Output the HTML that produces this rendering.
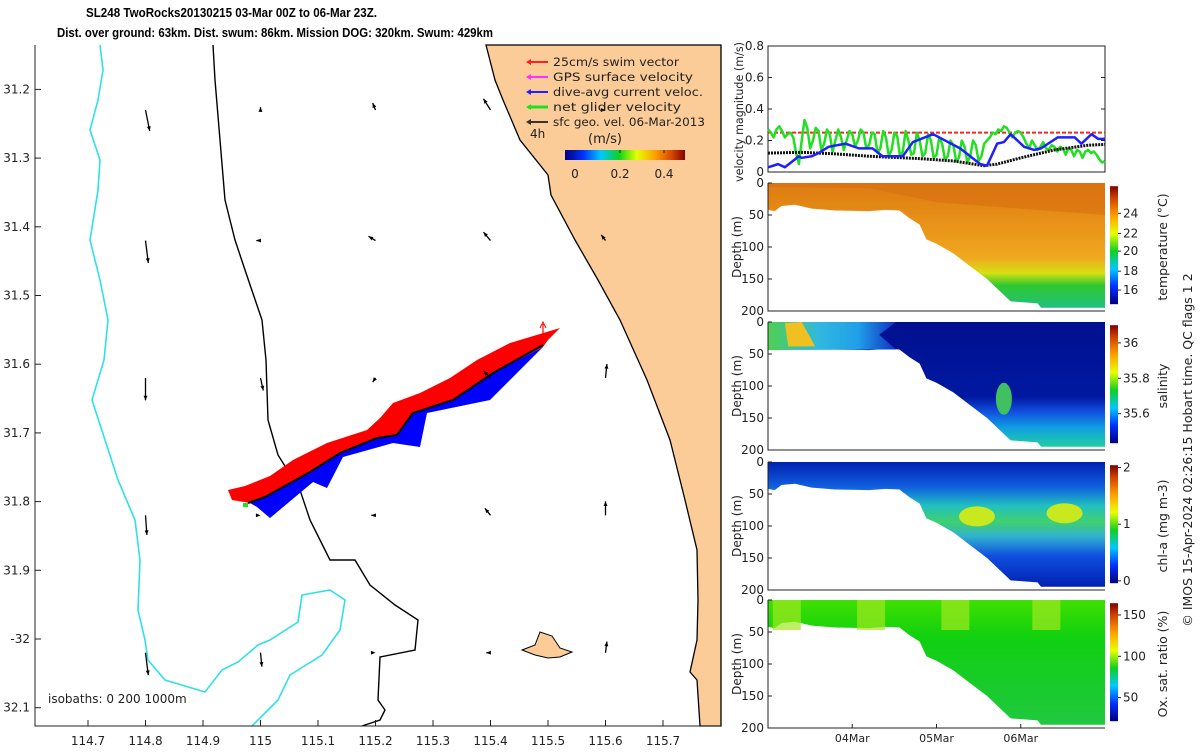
<!DOCTYPE html>
<html><head><meta charset="utf-8"><style>
body{margin:0;background:#fff;width:1200px;height:750px;overflow:hidden;font-family:"Liberation Sans",sans-serif}
svg text{font-family:"DejaVu Sans","Liberation Sans",sans-serif}
</style></head><body>
<svg width="1200" height="750" xmlns="http://www.w3.org/2000/svg" id="s">
<defs>
<linearGradient id="jet" x1="0" x2="1" y1="0" y2="0">
<stop offset="0" stop-color="#00007f"/><stop offset="0.15" stop-color="#0030ff"/><stop offset="0.3" stop-color="#00c8ff"/><stop offset="0.45" stop-color="#10d020"/><stop offset="0.6" stop-color="#e8ff00"/><stop offset="0.75" stop-color="#ffa000"/><stop offset="0.9" stop-color="#d04000"/><stop offset="1" stop-color="#800000"/></linearGradient>
<linearGradient id="jetv" x1="0" x2="0" y1="1" y2="0">
<stop offset="0" stop-color="#00007f"/><stop offset="0.15" stop-color="#0030ff"/><stop offset="0.3" stop-color="#00c8ff"/><stop offset="0.45" stop-color="#10d020"/><stop offset="0.6" stop-color="#e8ff00"/><stop offset="0.75" stop-color="#ffa000"/><stop offset="0.9" stop-color="#d04000"/><stop offset="1" stop-color="#800000"/></linearGradient>
<linearGradient id="gT" x1="0" x2="0" y1="0" y2="1"><stop offset="0" stop-color="#dd7a12"/><stop offset="0.35" stop-color="#e99418"/><stop offset="0.6" stop-color="#f0a820"/><stop offset="0.72" stop-color="#d8e010"/><stop offset="0.82" stop-color="#30c830"/><stop offset="1" stop-color="#20c080"/></linearGradient>
<linearGradient id="gS" x1="0" x2="0" y1="0" y2="1"><stop offset="0" stop-color="#00108f"/><stop offset="0.6" stop-color="#0018a0"/><stop offset="0.72" stop-color="#1050e0"/><stop offset="0.85" stop-color="#10a0e0"/><stop offset="1" stop-color="#20d0a0"/></linearGradient>
<linearGradient id="gS2" x1="0" x2="1" y1="0" y2="0"><stop offset="0" stop-color="#50d050"/><stop offset="0.4" stop-color="#30b8e0"/><stop offset="0.7" stop-color="#20a0e8"/><stop offset="1" stop-color="#1030c0"/></linearGradient>
<linearGradient id="gC" x1="0" x2="0" y1="0" y2="1"><stop offset="0" stop-color="#0020b0"/><stop offset="0.2" stop-color="#1060e0"/><stop offset="0.35" stop-color="#20c0c0"/><stop offset="0.48" stop-color="#40d070"/><stop offset="0.6" stop-color="#30b0d0"/><stop offset="0.75" stop-color="#1050e0"/><stop offset="1" stop-color="#0020b0"/></linearGradient>
<linearGradient id="gO" x1="0" x2="0" y1="0" y2="1"><stop offset="0" stop-color="#40e000"/><stop offset="0.3" stop-color="#10d010"/><stop offset="1" stop-color="#20c840"/></linearGradient>
</defs>
<g id="map"></g>
<g id="right"></g>
</svg>
<script>
// ---------- data ----------
const lonTicks=[114.7,114.8,114.9,115,115.1,115.2,115.3,115.4,115.5,115.6,115.7];
const latTicks=[31.2,31.3,31.4,31.5,31.6,31.7,31.8,31.9,32,32.1];
const latLabels=["31.2","31.3","31.4","31.5","31.6","31.7","31.8","31.9","-32","32.1"];
const arrowLon=[114.8,115.0,115.2,115.4,115.6];
const arrowLat=[31.23,31.42,31.62,31.82,32.02];
const arrowU=[[0.03,0,-0.02,-0.05,0],[0.02,-0.03,-0.05,-0.05,-0.03],[0,0.02,-0.02,-0.05,0.01],[0.01,0,-0.03,-0.04,0],[0.02,0.01,0,-0.03,0.01]];
const arrowV=[[-0.15,0.02,0.05,0.08,0],[-0.16,0,0.03,0.06,0.04],[-0.16,-0.09,-0.03,0.05,0.1],[-0.14,0,0,0.05,0.1],[-0.16,-0.1,0,0,0.08]];
const velTicks=[0,0.2,0.4,0.6,0.8];
const swimVel=[0.25,0.25];
const greenVel=[0.27,0.25,0.22,0.27,0.29,0.26,0.22,0.24,0.25,0.22,0.12,0.05,0.2,0.33,0.28,0.15,0.2,0.28,0.26,0.14,0.18,0.27,0.24,0.13,0.2,0.27,0.22,0.14,0.2,0.26,0.24,0.16,0.2,0.27,0.25,0.15,0.17,0.25,0.24,0.12,0.15,0.26,0.22,0.1,0.14,0.25,0.23,0.1,0.13,0.26,0.2,0.11,0.12,0.25,0.2,0.1,0.12,0.24,0.2,0.09,0.11,0.22,0.18,0.08,0.1,0.2,0.17,0.07,0.09,0.2,0.16,0.06,0.1,0.2,0.17,0.07,0.1,0.18,0.2,0.22,0.25,0.24,0.27,0.26,0.29,0.28,0.25,0.22,0.25,0.26,0.25,0.22,0.18,0.15,0.2,0.17,0.14,0.16,0.19,0.15,0.14,0.17,0.16,0.13,0.16,0.15,0.11,0.15,0.14,0.1,0.14,0.13,0.09,0.13,0.14,0.12,0.13,0.11,0.08,0.06,0.07];
const blueT=[0,0.03,0.05,0.08,0.09,0.1,0.13,0.15,0.18,0.23,0.27,0.31,0.34,0.4,0.43,0.49,0.57,0.63,0.65,0.68,0.7,0.72,0.76,0.79,0.81,0.86,0.91,0.93,0.96,0.98,1];
const blueVel=[0.03,0.05,0.03,0.08,0.1,0.09,0.1,0.12,0.16,0.18,0.15,0.15,0.1,0.1,0.19,0.24,0.15,0.05,0.04,0.18,0.19,0.24,0.16,0.14,0.15,0.22,0.22,0.18,0.24,0.21,0.21];
const blackT=[0,0.1,0.2,0.3,0.45,0.55,0.64,0.68,0.75,0.85,0.95,1];
const blackVel=[0.12,0.125,0.115,0.1,0.085,0.07,0.04,0.05,0.09,0.14,0.17,0.175];
const bottomT=[0,0.02,0.04,0.08,0.13,0.2,0.3,0.35,0.39,0.42,0.45,0.47,0.5,0.55,0.6,0.65,0.7,0.72,0.8,0.81,1];
const bottomDepth=[42,44,36,34,40,43,44,42,43,55,65,88,95,110,130,150,175,185,188,195,195];
const depthTicks=[0,50,100,150,200];
const dateTicks=["04Mar","05Mar","06Mar"];
const dateFrac=[0.25,0.5,0.75];
const panels=[
 {name:"temperature",y0:183,grad:"gT",label:"temperature (°C)",ticks:["16","18","20","22","24"],tf:[0.12,0.28,0.45,0.6,0.77]},
 {name:"salinity",y0:322,grad:"gS",label:"salinity",ticks:["35.6","35.8","36"],tf:[0.25,0.55,0.85]},
 {name:"chl-a",y0:462,grad:"gC",label:"chl-a (mg m-3)",ticks:["0","1","2"],tf:[0.02,0.5,0.98]},
 {name:"oxygen",y0:600,grad:"gO",label:"Ox. sat. ratio (%)",ticks:["50","100","150"],tf:[0.2,0.55,0.9]}];

const NS="http://www.w3.org/2000/svg";
function mk(p,t,a){const e=document.createElementNS(NS,t);for(const k in a)e.setAttribute(k,a[k]);p.appendChild(e);return e;}
function txt(p,x,y,s,a){const e=mk(p,'text',Object.assign({x:x,y:y,'font-size':12,fill:'#222'},a||{}));e.textContent=s;return e;}
const X=lon=>88+(lon-114.7)*575, Y=lat=>639+(lat-32)*687;
const map=document.getElementById('map');
const land=mk(map,'path',{d:"M486,45 L495,80 L503,100 L520,140 L548,175 L551,195 L575,240 L598,280 L620,320 L638,360 L647,380 L670,440 L685,500 L697,550 L698,600 L697,640 L690,672 L697,680 L700,726 L721,726 L721,45 Z",fill:"#fbcb98",stroke:"#000","stroke-width":1.3});


const isl=mk(map,'path',{d:"M522,650 L535,645 L540,632 L552,636 L560,648 L572,652 L560,657 L548,658 L535,655 Z",fill:"#fbcb98",stroke:"#000","stroke-width":1});


const iso200=mk(map,'path',{d:"M213,45 L215,80 L220,140 L225,200 L235,240 L245,270 L262,320 L266,360 L268,420 L278,455 L300,490 L310,520 L330,560 L355,560 L370,585 L395,605 L418,620 L415,650 L380,657 L378,700 L385,710 L380,720 L362,726",fill:"none",stroke:"#000","stroke-width":1.4});


const iso1000=mk(map,'path',{d:"M100,45 L103,70 L98,100 L90,130 L100,160 L98,190 L90,240 L100,280 L108,320 L104,360 L92,400 L105,440 L118,480 L135,520 L140,560 L138,610 L145,640 L148,660 L165,680 L205,692 L222,670 L238,662 L258,645 L270,640 L298,622 L302,595 L330,590 L345,600 L340,630 L322,655 L290,675 L278,700 L252,726",fill:"none",stroke:"#30e0e8","stroke-width":1.6});


const red=mk(map,'path',{d:"M228,490 L245,486 L270,476 L293,460 L327,443 L367,430 L380,418 L393,403 L420,393 L450,378 L477,360 L510,343 L560,328 L548,340 L543,347 L493,373 L453,400 L413,413 L397,435 L377,438 L340,453 L310,472 L265,497 L250,503 L232,500 Z",fill:"#ff0000"});


const blue=mk(map,'path',{d:"M250,503 L265,497 L310,472 L340,453 L377,438 L397,435 L413,413 L453,400 L493,373 L543,347 L520,370 L490,400 L427,413 L420,447 L393,443 L343,457 L327,488 L313,482 L270,518 L257,507 Z",fill:"#0000ff"});


const trk=mk(map,'path',{d:"M248,503 L265,497 L310,472 L340,453 L377,438 L397,435 L413,413 L453,400 L493,373 L543,345",fill:"none",stroke:"#000","stroke-width":2});


mk(map,'line',{x1:543,y1:340,x2:543,y2:324,stroke:"#f00","stroke-width":1.2});
mk(map,'path',{d:"M540,328 L543,322 L546,328",fill:"none",stroke:"#f00"});
mk(map,'rect',{x:243,y:503,width:5,height:4,fill:"#20e020"});
for(let i=0;i<arrowLat.length;i++)for(let j=0;j<arrowLon.length;j++){
 const x0=X(arrowLon[j]),y0=Y(arrowLat[i]);const x1=x0+arrowU[i][j]*140,y1=y0-arrowV[i][j]*140;
 const g=mk(map,'g',{});
 
 
 mk(g,'line',{x1:x0,y1:y0,x2:x1,y2:y1,stroke:"#000","stroke-width":1.3});
 const a=Math.atan2(y1-y0,x1-x0);
 mk(g,'path',{d:`M${x1},${y1} L${x1-5*Math.cos(a-0.4)},${y1-5*Math.sin(a-0.4)} L${x1-5*Math.cos(a+0.4)},${y1-5*Math.sin(a+0.4)}Z`,fill:"#000"});
}
mk(map,'path',{d:"M35,45 L35,726 L721,726",fill:"none",stroke:"#222","stroke-width":1});
lonTicks.forEach(l=>{const x=X(l);mk(map,'line',{x1:x,y1:726,x2:x,y2:720,stroke:"#222"});const t=txt(map,x,745,String(l),{'text-anchor':'middle'});});
latTicks.forEach((l,i)=>{const y=Y(l);mk(map,'line',{x1:35,y1:y,x2:41,y2:y,stroke:"#222"});const t=txt(map,30,y+4,latLabels[i],{'text-anchor':'end'});});
txt(map,48,703,"isobaths: 0   200  1000m",{'font-size':12,'xml:space':'preserve'});
const t1=txt(map,86,17,"SL248 TwoRocks20130215 03-Mar 00Z to 06-Mar 23Z.",{'font-weight':'bold','font-size':13,fill:'#000',textLength:291,lengthAdjust:'spacingAndGlyphs',style:'font-family:"Liberation Sans",sans-serif'});

const t2=txt(map,57,37,"Dist. over ground: 63km. Dist. swum: 86km. Mission DOG: 320km. Swum: 429km",{'font-weight':'bold','font-size':13,fill:'#000',textLength:436,lengthAdjust:'spacingAndGlyphs',style:'font-family:"Liberation Sans",sans-serif'});

const leg=[["25cm/s swim vector","#ff2020"],["GPS surface velocity","#ff30ff"],["dive-avg current veloc.","#2020ff"],["net glider velocity","#20e020"],["sfc geo. vel. 06-Mar-2013","#333"]];
leg.forEach((l,i)=>{const y=62+i*15;const g=mk(map,'g',{});
 mk(g,'line',{x1:528,y1:y,x2:548,y2:y,stroke:l[1],"stroke-width":i==3?3:2});mk(g,'path',{d:`M526,${y} L531,${y-3} L531,${y+3}Z`,fill:l[1]});txt(g,553,y+4,l[0],{'font-size':11.5,textLength:[126,140,150,128,152][i],lengthAdjust:'spacingAndGlyphs'});});
txt(map,530,138,"4h",{'font-size':12});
txt(map,605,143,"(m/s)",{'font-size':13,'text-anchor':'middle'});
mk(map,'rect',{x:565,y:150,width:120,height:10,fill:"url(#jet)"});
[["0",575],["0.2",620],["0.4",664]].forEach(c=>{txt(map,c[1],178,c[0],{'text-anchor':'middle'});mk(map,'line',{x1:c[1],y1:150,x2:c[1],y2:153,stroke:'#222'});});

const R=document.getElementById('right');
const PX0=768,PX1=1105,T=f=>PX0+f*(PX1-PX0);
const VY=v=>172-v*157.5;
const vp=mk(R,'g',{});
mk(vp,'rect',{x:PX0,y:46,width:PX1-PX0,height:126,fill:'none',stroke:'#222'});
velTicks.forEach(v=>{mk(vp,'line',{x1:PX0,y1:VY(v),x2:PX0+4,y2:VY(v),stroke:'#222'});mk(vp,'line',{x1:PX1,y1:VY(v),x2:PX1-4,y2:VY(v),stroke:'#222'});txt(vp,PX0-4,VY(v)+4,String(v),{'text-anchor':'end'});});
txt(vp,0,0,"velocity magnitude (m/s)",{transform:`translate(743,112) rotate(-90)`,'text-anchor':'middle','font-size':11.5,textLength:140,lengthAdjust:'spacingAndGlyphs'});
const line=(xs,ys,c,w,dash)=>{const p=mk(vp,'polyline',{points:xs.map((x,i)=>T(x)+','+VY(ys[i])).join(' '),fill:'none',stroke:c,'stroke-width':w,'stroke-linejoin':'round'});if(dash)p.setAttribute('stroke-dasharray',dash);return p;};
line([0,1],swimVel,'#ff2020',2,'4 2');
line(greenVel.map((_,i)=>i/(greenVel.length-1)),greenVel,'#20e020',2.5);
line(blackT,blackVel,'#111',3,'2 1');
line(blueT,blueVel,'#2020ff',2.5);
panels.forEach((p,k)=>{
 const g=mk(R,'g',{});
 const DY=d=>p.y0+d*0.64;
 let pts=`${T(0)},${DY(0)} `+bottomT.map((t,i)=>T(t)+','+DY(bottomDepth[i])).join(' ')+` ${T(1)},${DY(0)}`;
 const area=mk(g,'polygon',{points:pts,fill:`url(#${p.grad})`});
 
 
 if(k==1){mk(g,'polygon',{points:`${T(0)},${DY(0)} ${T(0.38)},${DY(0)} ${T(0.33)},${DY(20)} ${T(0.38)},${DY(43)} ${T(0)},${DY(44)}`,fill:'url(#gS2)'});mk(g,'polygon',{points:`${T(0.05)},${DY(2)} ${T(0.1)},${DY(0)} ${T(0.14)},${DY(38)} ${T(0.06)},${DY(38)}`,fill:'#f0c020'});mk(g,'ellipse',{cx:T(0.7),cy:DY(120),rx:8,ry:16,fill:'#40c060'});}
 if(k==2){[[0.62,85],[0.88,80]].forEach(e=>mk(g,'ellipse',{cx:T(e[0]),cy:DY(e[1]),rx:18,ry:10,fill:'#c8e820'}));}
 if(k==3){[0.05,0.3,0.55,0.82].forEach(f=>mk(g,'rect',{x:T(f)-12,y:DY(0),width:28,height:30,fill:'#a0e820',opacity:0.7}));}
 if(k==0){mk(g,'polygon',{points:`${T(0)},${DY(0)} ${T(1)},${DY(0)} ${T(1)},${DY(50)} ${T(0.5)},${DY(30)} ${T(0.3)},${DY(8)} ${T(0)},${DY(6)}`,fill:'#d87010',opacity:0.6});}
 mk(g,'path',{d:`M${PX0},${DY(0)} L${PX0},${DY(200)} L${PX1},${DY(200)}`,fill:'none',stroke:'#222'});
 depthTicks.forEach(d=>{mk(g,'line',{x1:PX0,y1:DY(d),x2:PX0+4,y2:DY(d),stroke:'#222'});txt(g,PX0-4,DY(d)+4,String(d),{'text-anchor':'end'});});
 txt(g,0,0,"Depth (m)",{transform:`translate(741,${DY(100)}) rotate(-90)`,'text-anchor':'middle','font-size':12,textLength:62,lengthAdjust:'spacingAndGlyphs'});
 const cb=mk(g,'rect',{x:1110,y:DY(5),width:8,height:118,fill:'url(#jetv)'});
 
 
 p.ticks.forEach((s,i)=>{const y=DY(5)+118*(1-p.tf[i]);mk(g,'line',{x1:1118,y1:y,x2:1121,y2:y,stroke:'#222'});txt(g,1123,y+4,s,{'font-size':12});});
 txt(g,0,0,p.label,{transform:`translate(1167,${DY(100)}) rotate(-90)`,'text-anchor':'middle','font-size':12.5});
 if(k==3){dateFrac.forEach((f,i)=>{mk(g,'line',{x1:T(f),y1:DY(200),x2:T(f),y2:DY(200)-4,stroke:'#222'});txt(g,T(f),742,dateTicks[i],{'text-anchor':'middle','font-size':11});});}
});
const cr=txt(R,0,0,"© IMOS 15-Apr-2024 02:26:15 Hobart time. QC flags 1  2",{transform:'translate(1192,450) rotate(-90)','text-anchor':'middle','font-size':12.5,'xml:space':'preserve'});

</script>
</body></html>
